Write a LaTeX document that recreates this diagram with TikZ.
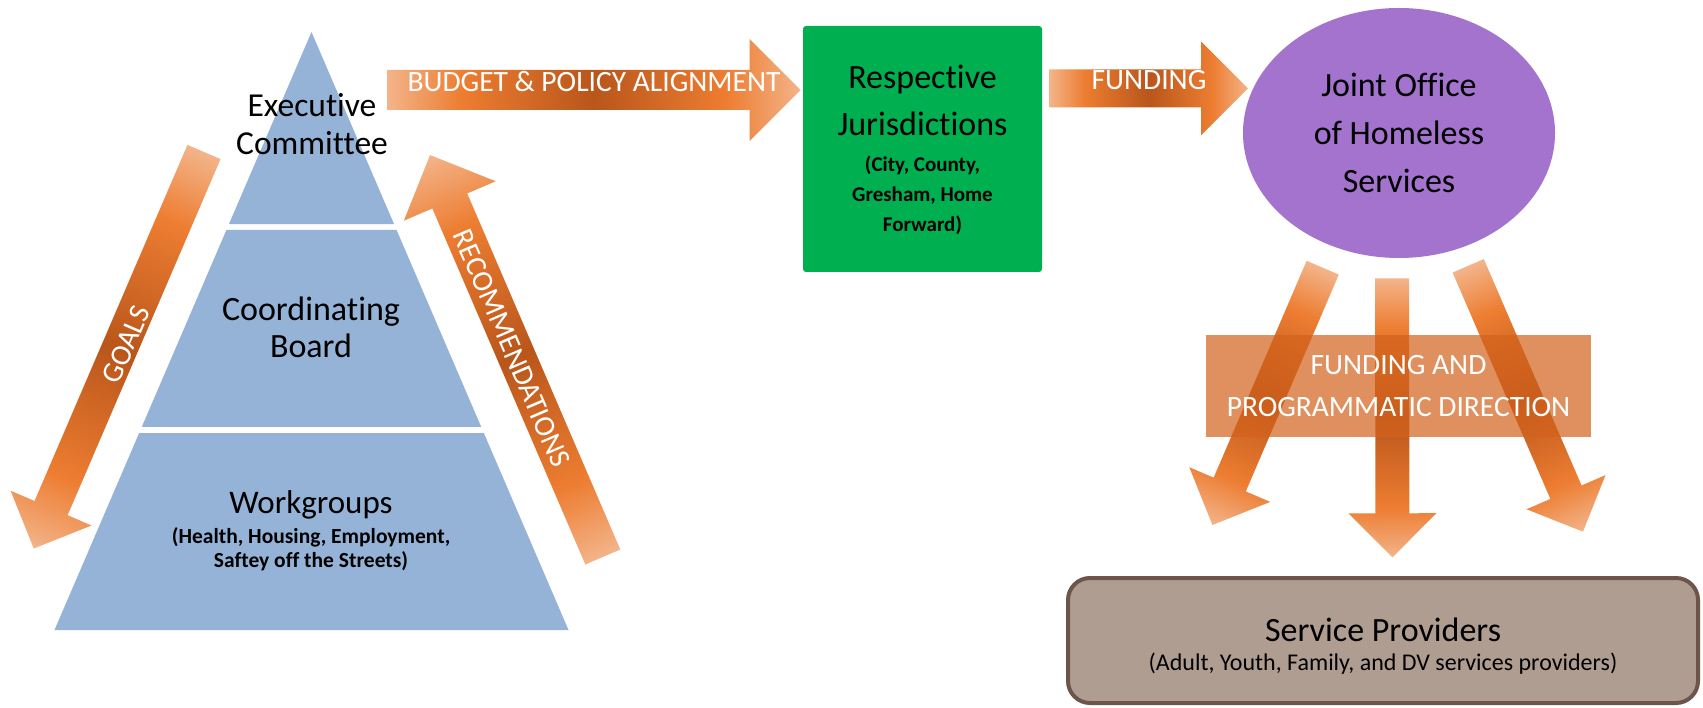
\documentclass[tikz,border=0pt]{standalone}
\usepackage{fontspec}
\setmainfont{Carlito}[Ligatures=NoCommon]
\usetikzlibrary{shapes.geometric,calc}
\definecolor{alight}{HTML}{F3B48A}
\definecolor{aorange}{HTML}{ED7D31}
\definecolor{adark}{HTML}{B9561B}
\definecolor{pyrblue}{HTML}{95B3D7}
\definecolor{jgreen}{HTML}{00B050}
\definecolor{jpurple}{HTML}{A373CD}
\definecolor{boxorange}{HTML}{D3621C}
\definecolor{spfill}{HTML}{B09D92}
\definecolor{spborder}{HTML}{6E554B}
\pgfdeclarehorizontalshading{arrowgrad}{100bp}{color(0bp)=(alight); color(25bp)=(alight); color(34bp)=(aorange); color(50bp)=(adark); color(66bp)=(aorange); color(75bp)=(alight); color(100bp)=(alight)}
\newcommand\blockarrow[5]{%
  \path (#1); \pgfgetlastxy{\BAax}{\BAay}%
  \path (#2); \pgfgetlastxy{\BAbx}{\BAby}%
  \pgfmathsetmacro\BAang{atan2(\BAby-\BAay,\BAbx-\BAax)}%
  \pgfmathsetmacro\BAlen{veclen(\BAbx-\BAax,\BAby-\BAay)}%
  \begin{scope}[transform canvas={shift={(#1)},rotate=\BAang}]
    \shade[shading=arrowgrad] (0,{-#3/2}) -- ({\BAlen-#5},{-#3/2}) -- ({\BAlen-#5},{-#4/2}) -- (\BAlen,0) -- ({\BAlen-#5},{#4/2}) -- ({\BAlen-#5},{#3/2}) -- (0,{#3/2}) -- cycle;
  \end{scope}}
\tikzset{
  lbl/.style={text=white, inner sep=0pt, font=\fontsize{29.5}{35}\selectfont},
  bigtext/.style={align=center, inner sep=0pt, font=\fontsize{34}{38}\selectfont},
  smalltext/.style={align=center, inner sep=0pt, font=\bfseries\fontsize{21}{24}\selectfont},
}
\begin{document}
\begin{tikzpicture}[x=1pt,y=-1pt]
\useasboundingbox[fill=white] (0,0) rectangle (1703,708);
% pyramid
\coordinate (apex) at (311.5,32);
\coordinate (bl) at (54.5,630);
\coordinate (br) at (568.5,630);
\coordinate (t1l) at ($(apex)!0.3211!(bl)$);
\coordinate (t1r) at ($(apex)!0.3211!(br)$);
\coordinate (t2l) at ($(apex)!0.3311!(bl)$);
\coordinate (t2r) at ($(apex)!0.3311!(br)$);
\coordinate (t3l) at ($(apex)!0.6605!(bl)$);
\coordinate (t3r) at ($(apex)!0.6605!(br)$);
\coordinate (t4l) at ($(apex)!0.6706!(bl)$);
\coordinate (t4r) at ($(apex)!0.6706!(br)$);
\fill[pyrblue] (apex) -- (t1l) -- (t1r) -- cycle;
\fill[pyrblue] (t2l) -- (t3l) -- (t3r) -- (t2r) -- cycle;
\fill[pyrblue] (t4l) -- (bl) -- (br) -- (t4r) -- cycle;
\node[bigtext, font=\fontsize{33.5}{38}\selectfont] (exec) at (312,124) {Executive\\Committee};
\node[bigtext, font=\fontsize{34}{37}\selectfont] (coord) at (311,327) {Coordinating\\Board};
\node[bigtext, font=\fontsize{33}{38}\selectfont] (work) at (311,505) {Workgroups};
\node[smalltext, font=\bfseries\fontsize{21.5}{24}\selectfont] (worknote) at (311,549) {(Health, Housing, Employment,\\Saftey off the Streets)};
% arrow end points
\coordinate (budgetS) at (387,90);
\coordinate (budgetE) at (800.5,90);
\coordinate (fundS) at (1049.3,88.3);
\coordinate (fundE) at (1248,88.3);
\coordinate (goalsS) at (204,152);
\coordinate (goalsE) at (33.7,548.6);
\coordinate (recsS) at (602.8,557);
\coordinate (recsE) at (430,155);
\coordinate (dlS) at (1322.7,267.7);
\coordinate (dlE) at (1212.4,525);
\coordinate (dmS) at (1392,278.3);
\coordinate (dmE) at (1392.5,557.3);
\coordinate (drS) at (1468.2,265.8);
\coordinate (drE) at (1583,531.7);
\blockarrow{budgetS}{budgetE}{40}{102}{51}
\blockarrow{fundS}{fundE}{38}{94}{47}
\blockarrow{goalsS}{goalsE}{36}{88}{44}
\blockarrow{recsS}{recsE}{38}{100}{50}
\blockarrow{dlS}{dlE}{35}{88}{44}
\blockarrow{dmS}{dmE}{34}{88}{44}
\blockarrow{drS}{drE}{34}{86}{43}
% labels on arrows
\node[lbl, rotate=66.7] (goalslbl) at (126,344.6) {GOALS};
\node[lbl, rotate=-66.7] (recslbl) at (511.7,348.3) {RECOMMENDATIONS};
\node[lbl] (budgetlbl) at (594,82) {BUDGET \& POLICY ALIGNMENT};
\node[lbl] (fundlbl) at (1149,80) {FUNDING};
% jurisdictions
\node[rectangle, fill=jgreen, rounded corners=3pt, minimum width=239pt, minimum height=246pt, inner sep=0pt] (juris) at (922.5,149) {};
\node[bigtext, font=\fontsize{34}{47}\selectfont] (juristitle) at (922.5,100) {Respective\\Jurisdictions};
\node[smalltext, font=\bfseries\fontsize{21}{30}\selectfont] (jurisnote) at (922.5,195) {(City, County,\\Gresham, Home\\Forward)};
% joint office
\node[ellipse, fill=jpurple, minimum width=312pt, minimum height=250pt, inner sep=0pt, align=center, font=\fontsize{34}{48}\selectfont] (joint) at (1399,133) {Joint Office\\of Homeless\\Services};
% funding and programmatic direction
\node[rectangle, fill=boxorange, fill opacity=0.7, text opacity=1, text=white, minimum width=385pt, minimum height=102pt, inner sep=0pt, align=center, font=\fontsize{29.5}{42}\selectfont] (fpd) at (1398.5,386) {FUNDING AND\\PROGRAMMATIC DIRECTION};
% service providers
\node[rectangle, draw=spborder, line width=4pt, fill=spfill, rounded corners=22pt, minimum width=630pt, minimum height=125pt] (sp) at (1383,640.5) {};
\node[bigtext] (sptitle) at (1383,630) {Service Providers};
\node[align=center, inner sep=0pt, font=\fontsize{24}{28}\selectfont] (spnote) at (1383,664) {(Adult, Youth, Family, and DV services providers)};
\end{tikzpicture}
\end{document}
